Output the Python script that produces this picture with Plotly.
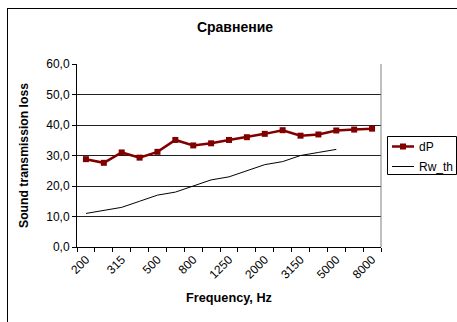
import plotly.graph_objects as go

freq = ["200", "250", "315", "400", "500", "630", "800", "1000", "1250",
        "1600", "2000", "2500", "3150", "4000", "5000", "6300", "8000"]
dP = [28.8, 27.6, 31.0, 29.3, 31.2, 35.1, 33.3, 34.0, 35.1,
      36.0, 37.1, 38.3, 36.5, 36.9, 38.2, 38.5, 38.8]
Rw_th = [11, 12, 13, 15, 17, 18, 20, 22, 23, 25, 27, 28, 30, 31, 32]
y_ticks = [0, 10, 20, 30, 40, 50, 60]
series_names = ["dP", "Rw_th"]

idx = list(range(len(freq)))
FONT = "Liberation Sans, Arial, sans-serif"
RED = "#800000"

# plot-area geometry in pixels (for converting legend placement)
L, R, T, B = 77, 381, 64, 247


def px(x):
    return (x - L) / (R - L)


def py(y):
    return (B - y) / (B - T)


fig = go.Figure()
fig.add_trace(go.Scatter(
    x=idx, y=dP, name=series_names[0], mode="lines+markers",
    line=dict(color=RED, width=2.5),
    marker=dict(symbol="square", size=6, color=RED),
    hoverinfo="skip",
))
fig.add_trace(go.Scatter(
    x=idx[:len(Rw_th)], y=Rw_th, name=series_names[1], mode="lines",
    line=dict(color="black", width=1),
    hoverinfo="skip",
))

shapes = [
    dict(type="line", xref="paper", yref="paper", x0=1, x1=1, y0=0, y1=1,
         line=dict(color="#808080", width=1)),
    # legend box
    dict(type="rect", xref="paper", yref="paper",
         x0=px(387.5), x1=px(456.5), y0=py(136.5), y1=py(174.5),
         line=dict(color="black", width=1), fillcolor="white"),
    dict(type="line", xref="paper", yref="paper",
         x0=px(392), x1=px(414), y0=py(146.5), y1=py(146.5),
         line=dict(color=RED, width=2.5)),
    dict(type="rect", xref="paper", yref="paper",
         x0=px(400), x1=px(406), y0=py(143.5), y1=py(149.5),
         line=dict(color=RED, width=0), fillcolor=RED),
    dict(type="line", xref="paper", yref="paper",
         x0=px(392), x1=px(414), y0=py(166.5), y1=py(166.5),
         line=dict(color="black", width=1)),
]
annotations = [
    dict(text=series_names[0], xref="paper", yref="paper", x=px(417),
         y=py(147), xanchor="left", yanchor="middle", showarrow=False,
         font=dict(size=12)),
    dict(text=series_names[1], xref="paper", yref="paper", x=px(417),
         y=py(167), xanchor="left", yanchor="middle", showarrow=False,
         font=dict(size=12)),
]

fig.update_layout(
    width=457, height=322,
    margin=dict(l=L, r=457 - R, t=T, b=322 - B, autoexpand=False),
    paper_bgcolor="white", plot_bgcolor="white",
    separators=", ",
    font=dict(family=FONT, size=12, color="black"),
    title=dict(text="<b>Сравнение</b>", x=(235 / 457), xanchor="center",
               y=1 - 27 / 322, yanchor="middle", font=dict(size=14)),
    showlegend=False,
    hovermode=False,
    shapes=shapes,
    annotations=annotations,
)

fig.update_xaxes(
    automargin=False,
    range=[-0.5, len(freq) - 0.5],
    tickmode="array", tickvals=idx[::2], ticktext=freq[::2],
    tickangle=-45, ticks="", showgrid=False,
    showline=True, linecolor="black", linewidth=1,
    minor=dict(tickmode="linear", tick0=-0.5, dtick=1, ticks="outside",
               ticklen=4, tickcolor="black", showgrid=False),
    zeroline=False,
    title=dict(text="<b>Frequency, Hz</b>", font=dict(size=12.7), standoff=12),
    tickfont=dict(size=12),
)
fig.update_yaxes(
    automargin=False,
    range=[0, 60], tickmode="array", tickvals=y_ticks, tickformat=".1f",
    ticks="outside", ticklen=4, tickcolor="black",
    showgrid=True, gridcolor="#202020", gridwidth=1,
    showline=True, linecolor="black", linewidth=1, zeroline=False,
    title=dict(text="<b>Sound transmission loss</b>", font=dict(size=12.2),
               standoff=14),
    tickfont=dict(size=12),
)

# outer chart frame: only its left and top edges fall inside the picture
post = (
    "document.body.style.margin='0';"
    "document.body.style.overflow='hidden';"
    "var fr=document.createElement('div');"
    "fr.style.cssText='position:absolute;left:7px;top:8px;width:449px;"
    "height:313px;border-left:1px solid #000;border-top:1px solid #000;"
    "pointer-events:none;box-sizing:content-box;';"
    "document.body.appendChild(fr);"
)
fig.write_html("out.html", config={"displayModeBar": False}, post_script=post)
